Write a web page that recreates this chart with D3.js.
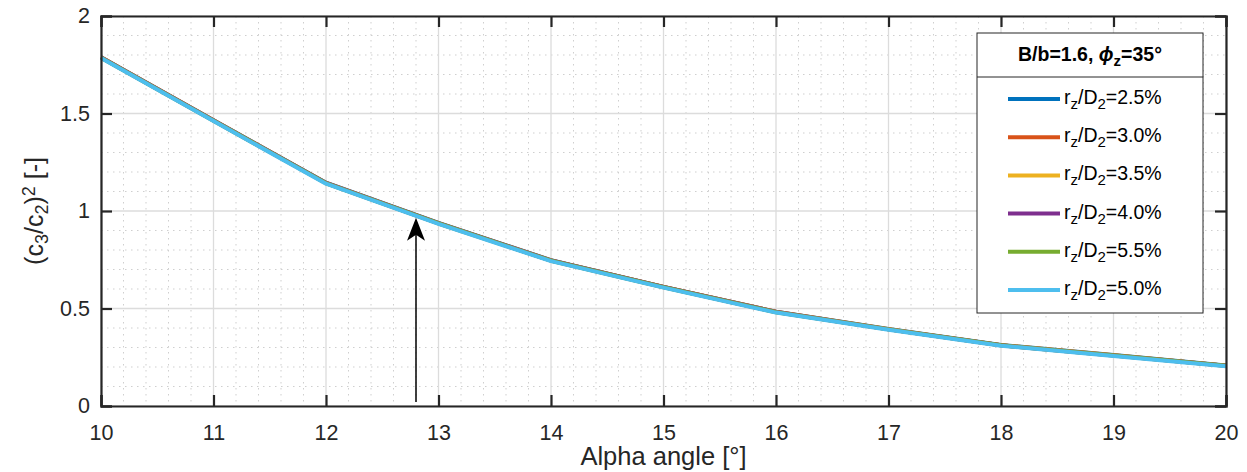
<!DOCTYPE html>
<meta charset="utf-8">
<head>
    <title>(c3/c2)^2 vs alpha angle</title>
    <script src="https://d3js.org/d3.v7.min.js"></script>
    <style>
        body { margin: 0; background: #fff; }
        text { font-family: "Liberation Sans", Arial, Helvetica, sans-serif; fill: #262626; }
    </style>
</head>
<body>
    <svg width="1247" height="472"></svg>
    <script>
        // values
        var alpha = [10, 11, 12, 13, 14, 15, 16, 17, 18, 19, 20];
        var r25 = [1.789, 1.466, 1.145, 0.939, 0.748, 0.611, 0.483, 0.395, 0.313, 0.261, 0.208];
        var r30 = [1.788, 1.465, 1.144, 0.938, 0.747, 0.611, 0.483, 0.394, 0.312, 0.260, 0.207];
        var r35 = [1.787, 1.464, 1.143, 0.937, 0.746, 0.610, 0.482, 0.394, 0.312, 0.260, 0.207];
        var r40 = [1.787, 1.464, 1.143, 0.937, 0.746, 0.610, 0.482, 0.393, 0.311, 0.259, 0.206];
        var r55 = [1.786, 1.463, 1.142, 0.936, 0.745, 0.609, 0.481, 0.393, 0.311, 0.259, 0.206];
        var r50 = [1.784, 1.461, 1.140, 0.934, 0.743, 0.607, 0.479, 0.391, 0.309, 0.257, 0.204];
        var seriesNames = ["2.5%", "3.0%", "3.5%", "4.0%", "5.5%", "5.0%"];
        var seriesValues = [r25, r30, r35, r40, r55, r50];
        var colors = ["#0072BD", "#D95319", "#EDB120", "#7E2F8E", "#77AC30", "#4DBEEE"];
        var xTicks = [10, 11, 12, 13, 14, 15, 16, 17, 18, 19, 20];
        var yTicks = [0, 0.5, 1, 1.5, 2];
        var arrowX = 12.8, arrowFrom = 0.02, arrowTo = 0.965;

        var svg = d3.select("svg");
        var pLeft = 101, pRight = 1226, pTop = 16, pBottom = 406;

        var x = d3.scaleLinear().domain([10, 20]).range([pLeft, pRight]);
        var y = d3.scaleLinear().domain([0, 2]).range([pBottom, pTop]);

        var g = svg.append("g");

        // minor grid (dotted)
        var xMinor = d3.range(10, 20.001, 0.2).filter(function (v) { return Math.abs(v - Math.round(v)) > 0.01; });
        var yMinor = d3.range(0, 2.001, 0.1).filter(function (v) { return Math.abs(v * 2 - Math.round(v * 2)) > 0.01; });
        g.selectAll(".xminor").data(xMinor).enter().append("line")
            .attr("x1", d => x(d)).attr("x2", d => x(d)).attr("y1", pTop).attr("y2", pBottom)
            .attr("stroke", "#cfcfcf").attr("stroke-width", 1).attr("stroke-dasharray", "1.5,4.5");
        g.selectAll(".yminor").data(yMinor).enter().append("line")
            .attr("x1", pLeft).attr("x2", pRight).attr("y1", d => y(d)).attr("y2", d => y(d))
            .attr("stroke", "#cfcfcf").attr("stroke-width", 1).attr("stroke-dasharray", "1.5,4.5");

        // major grid
        g.selectAll(".xgrid").data(xTicks).enter().append("line")
            .attr("x1", d => x(d)).attr("x2", d => x(d)).attr("y1", pTop).attr("y2", pBottom)
            .attr("stroke", "#dcdcdc").attr("stroke-width", 1.3);
        g.selectAll(".ygrid").data(yTicks).enter().append("line")
            .attr("x1", pLeft).attr("x2", pRight).attr("y1", d => y(d)).attr("y2", d => y(d))
            .attr("stroke", "#dcdcdc").attr("stroke-width", 1.3);

        // series
        var line = d3.line().x((d, i) => x(alpha[i])).y(d => y(d));
        seriesValues.forEach(function (vals, i) {
            g.append("path").datum(vals)
                .attr("d", line)
                .attr("fill", "none")
                .attr("stroke", colors[i])
                .attr("stroke-width", 4)
                .attr("stroke-linejoin", "round");
        });

        // axes with inward ticks on all four sides
        var tl = 11;
        var xAxisB = d3.axisBottom(x).tickValues(xTicks).tickSize(-tl).tickPadding(19).tickFormat(d3.format("d"));
        var xAxisT = d3.axisTop(x).tickValues(xTicks).tickSize(-tl).tickFormat("");
        var yAxisL = d3.axisLeft(y).tickValues(yTicks).tickSize(-tl).tickPadding(11).tickFormat(d => d3.format("")(d));
        var yAxisR = d3.axisRight(y).tickValues(yTicks).tickSize(-tl).tickFormat("");

        [[xAxisB, "translate(0," + pBottom + ")"], [xAxisT, "translate(0," + pTop + ")"],
         [yAxisL, "translate(" + pLeft + ",0)"], [yAxisR, "translate(" + pRight + ",0)"]].forEach(function (a) {
            var ax = svg.append("g").attr("transform", a[1]).call(a[0]);
            ax.select(".domain").attr("stroke", "#262626").attr("stroke-width", 2.2);
            ax.selectAll(".tick line").attr("stroke", "#262626").attr("stroke-width", 2.2);
            ax.selectAll("text").attr("fill", "#262626").style("font-size", "21.5px")
                .style("font-family", '"Liberation Sans", Arial, sans-serif');
        });

        // arrow annotation
        var ax0 = x(arrowX), ay0 = y(arrowFrom), ay1 = y(arrowTo);
        svg.append("line").attr("x1", ax0).attr("x2", ax0).attr("y1", ay0).attr("y2", ay1 + 15)
            .attr("stroke", "#000").attr("stroke-width", 1.5);
        svg.append("path")
            .attr("d", "M" + ax0 + "," + ay1 + " L" + (ax0 + 9) + "," + (ay1 + 23) + " L" + ax0 + "," + (ay1 + 17) +
                " L" + (ax0 - 9) + "," + (ay1 + 23) + " Z")
            .attr("fill", "#000");

        // axis labels
        svg.append("text").attr("x", (pLeft + pRight) / 2).attr("y", 465).attr("text-anchor", "middle")
            .style("font-size", "25.5px").text("Alpha angle [°]");

        var yl = svg.append("text").attr("transform", "translate(43," + ((pTop + pBottom) / 2) + ") rotate(-90)")
            .attr("text-anchor", "middle").style("font-size", "25px");
        yl.append("tspan").text("(c");
        yl.append("tspan").attr("baseline-shift", "-25%").style("font-size", "18px").text("3");
        yl.append("tspan").text("/c");
        yl.append("tspan").attr("baseline-shift", "-25%").style("font-size", "18px").text("2");
        yl.append("tspan").text(")");
        yl.append("tspan").attr("baseline-shift", "45%").style("font-size", "18px").text("2");
        yl.append("tspan").text(" [-]");

        // legend
        var lg = svg.append("g");
        var lx = 977, ly = 33, lw = 226, lh = 280;
        lg.append("rect").attr("x", lx).attr("y", ly).attr("width", lw).attr("height", lh)
            .attr("fill", "#fff").attr("stroke", "#262626").attr("stroke-width", 1);
        lg.append("line").attr("x1", lx).attr("x2", lx + lw).attr("y1", 77).attr("y2", 77)
            .attr("stroke", "#262626").attr("stroke-width", 1);
        var tt = lg.append("text").attr("x", lx + lw / 2).attr("y", 61).attr("text-anchor", "middle")
            .style("font-size", "19.5px").style("font-weight", "bold").style("fill", "#000");
        tt.append("tspan").text("B/b=1.6, ");
        tt.append("tspan").style("font-style", "italic").text("\u03d5");
        tt.append("tspan").attr("baseline-shift", "-30%").style("font-size", "15px").text("z");
        tt.append("tspan").text("=35°");

        seriesNames.forEach(function (name, i) {
            var ry = 99 + i * 38.2;
            lg.append("line").attr("x1", 1008).attr("x2", 1060).attr("y1", ry).attr("y2", ry)
                .attr("stroke", colors[i]).attr("stroke-width", 4);
            var t = lg.append("text").attr("x", 1064).attr("y", ry + 5).style("font-size", "19.5px").style("fill", "#000");
            t.append("tspan").text("r");
            t.append("tspan").attr("baseline-shift", "-35%").style("font-size", "15px").text("z");
            t.append("tspan").text("/D");
            t.append("tspan").attr("baseline-shift", "-35%").style("font-size", "15px").text("2");
            t.append("tspan").text("=" + name);
        });
    </script>
</body>
